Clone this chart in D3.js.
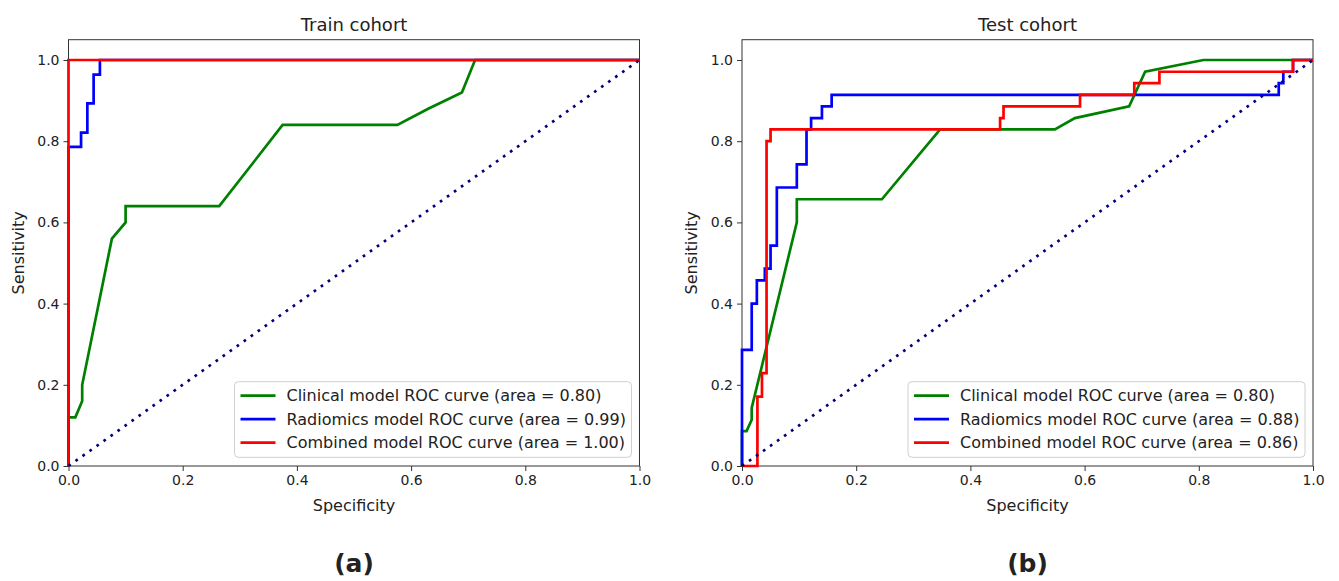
<!DOCTYPE html>
<html>
<head>
<meta charset="utf-8">
<script src="https://cdn.jsdelivr.net/npm/d3@7"></script>
<style>
  body { margin: 0; background: #fff; }
  text { font-family: "DejaVu Sans", sans-serif; fill: #222; }
</style>
</head>
<body>
<div id="app"></div>
<script>
'use strict'
const ticks = [0, 0.2, 0.4, 0.6, 0.8, 1.0]
const titles = ['Train cohort', 'Test cohort']
const panelLetters = ['(a)', '(b)']
const seriesNames = ['Clinical model', 'Radiomics model', 'Combined model']
const colors = ['green', 'blue', 'red']
const trainAuc = [0.80, 0.99, 1.00]
const testAuc = [0.80, 0.88, 0.86]

// train cohort curves (x = 1 - specificity, y = sensitivity)
const trainClinicalX = [0, 0, 0.012, 0.024, 0.024, 0.076, 0.1, 0.1, 0.264, 0.375, 0.576, 0.63, 0.689, 0.712, 1]
const trainClinicalY = [0, 0.12, 0.12, 0.16, 0.2, 0.56, 0.6, 0.64, 0.64, 0.84, 0.84, 0.88, 0.92, 1, 1]
const trainRadiomicsX = [0, 0, 0.022, 0.022, 0.033, 0.033, 0.044, 0.044, 0.055, 0.055, 1]
const trainRadiomicsY = [0, 0.786, 0.786, 0.821, 0.821, 0.893, 0.893, 0.964, 0.964, 1, 1]
const trainCombinedX = [0, 0, 1]
const trainCombinedY = [0, 1, 1]

// test cohort curves
const testClinicalX = [0, 0, 0.008, 0.017, 0.017, 0.096, 0.096, 0.245, 0.347, 0.548, 0.583, 0.678, 0.706, 0.808, 1]
const testClinicalY = [0, 0.086, 0.086, 0.114, 0.143, 0.6, 0.657, 0.657, 0.829, 0.829, 0.857, 0.886, 0.971, 1, 1]
const testRadiomicsX = [0, 0, 0.017, 0.017, 0.026, 0.026, 0.04, 0.04, 0.05, 0.05, 0.061, 0.061, 0.096, 0.096, 0.113, 0.113,
  0.121, 0.121, 0.14, 0.14, 0.157, 0.157, 0.94, 0.94, 0.948, 0.948, 0.965, 0.965, 1]
const testRadiomicsY = [0, 0.286, 0.286, 0.4, 0.4, 0.457, 0.457, 0.486, 0.486, 0.543, 0.543, 0.686, 0.686, 0.743, 0.743, 0.829,
  0.829, 0.857, 0.857, 0.886, 0.886, 0.914, 0.914, 0.943, 0.943, 0.971, 0.971, 1, 1]
const testCombinedX = [0, 0.027, 0.027, 0.035, 0.035, 0.043, 0.043, 0.05, 0.05, 0.452, 0.452, 0.458, 0.458, 0.592, 0.592,
  0.687, 0.687, 0.731, 0.731, 0.965, 0.965, 1]
const testCombinedY = [0, 0, 0.171, 0.171, 0.229, 0.229, 0.8, 0.8, 0.829, 0.829, 0.857, 0.857, 0.886, 0.886, 0.914,
  0.914, 0.943, 0.943, 0.971, 0.971, 1, 1]

const panels = [
  { x0: 68.5, x1: 639.5, auc: trainAuc, curves: [[trainClinicalX, trainClinicalY], [trainRadiomicsX, trainRadiomicsY], [trainCombinedX, trainCombinedY]] },
  { x0: 742, x1: 1313, auc: testAuc, curves: [[testClinicalX, testClinicalY], [testRadiomicsX, testRadiomicsY], [testCombinedX, testCombinedY]] }
]

const svg = d3.select('#app').append('svg')
  .attr('width', 1339)
  .attr('height', 581)

const y = d3.scaleLinear().domain([0, 1.05]).range([466, 39.7])

panels.forEach((p, pi) => {
  const x = d3.scaleLinear().domain([0, 1]).range([p.x0, p.x1])
  const g = svg.append('g')
  const line = d3.line().x(d => x(d[0])).y(d => y(d[1]))

  g.append('rect')
    .attr('x', p.x0).attr('y', y(1.05))
    .attr('width', p.x1 - p.x0).attr('height', y(0) - y(1.05))
    .attr('fill', 'none').attr('stroke', '#333').attr('stroke-width', 1)

  p.curves.forEach((c, i) => {
    g.append('path')
      .datum(d3.zip(c[0], c[1]))
      .attr('d', line)
      .attr('fill', 'none')
      .attr('stroke', colors[i])
      .attr('stroke-width', 2.7)
      .attr('stroke-linejoin', 'miter')
  })

  g.append('path')
    .datum([[0, 0], [1, 1]])
    .attr('d', line)
    .attr('fill', 'none')
    .attr('stroke', 'navy')
    .attr('stroke-width', 2.7)
    .attr('stroke-dasharray', '2.7,5.9')

  const xAxis = g.append('g')
    .attr('transform', `translate(0,${y(0)})`)
    .call(d3.axisBottom(x).tickValues(ticks).tickSize(5).tickPadding(4).tickFormat(d3.format('.1f')))
  const yAxis = g.append('g')
    .attr('transform', `translate(${p.x0},0)`)
    .call(d3.axisLeft(y).tickValues(ticks).tickSize(5).tickPadding(4).tickFormat(d3.format('.1f')))
  ;[xAxis, yAxis].forEach(a => {
    a.select('.domain').remove()
    a.selectAll('line').attr('stroke', '#333')
    a.selectAll('text').style('font-size', '14px').style('font-family', '"DejaVu Sans", sans-serif').attr('fill', '#222')
  })

  const cx = (p.x0 + p.x1) / 2
  g.append('text').attr('x', cx).attr('y', 31).attr('text-anchor', 'middle')
    .style('font-size', '18px').text(titles[pi])
  g.append('text').attr('x', cx).attr('y', 511).attr('text-anchor', 'middle')
    .style('font-size', '16px').text('Specificity')
  g.append('text')
    .attr('transform', `translate(${p.x0 - 45},${(y(0) + y(1.05)) / 2}) rotate(-90)`)
    .attr('text-anchor', 'middle')
    .style('font-size', '16px').text('Sensitivity')
  g.append('text').attr('x', cx).attr('y', 572).attr('text-anchor', 'middle')
    .style('font-size', '25px').style('font-weight', 'bold').text(panelLetters[pi])

  // legend
  const lw = 397, lh = 75.6
  const lx = p.x1 - 8 - lw, ly = y(0) - 8.7 - lh
  const leg = g.append('g').attr('transform', `translate(${lx},${ly})`)
  leg.append('rect')
    .attr('width', lw).attr('height', lh).attr('rx', 4)
    .attr('fill', 'white').attr('fill-opacity', 0.8)
    .attr('stroke', '#d0d0d0').attr('stroke-width', 1)
  seriesNames.forEach((s, i) => {
    const ry = 14 + i * 23.5
    leg.append('line')
      .attr('x1', 6).attr('x2', 41).attr('y1', ry).attr('y2', ry)
      .attr('stroke', colors[i]).attr('stroke-width', 2.7)
    leg.append('text')
      .attr('x', 52).attr('y', ry).attr('dy', '0.35em')
      .style('font-size', '16px')
      .text(`${s} ROC curve (area = ${p.auc[i].toFixed(2)})`)
  })
})
</script>
</body>
</html>
